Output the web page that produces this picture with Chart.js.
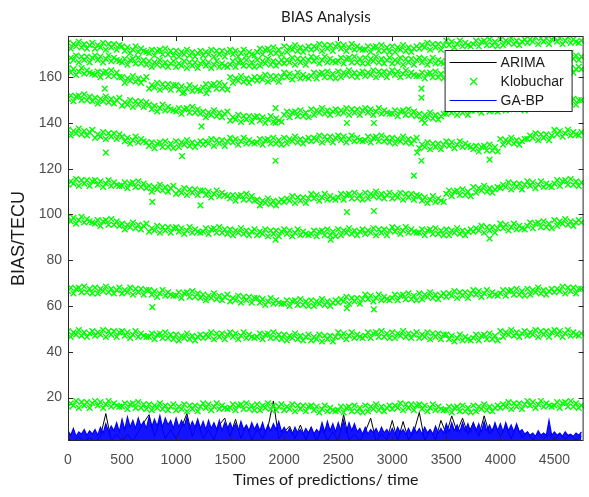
<!DOCTYPE html>
<html>
<head>
<meta charset="utf-8">
<title>BIAS Analysis</title>
<script src="https://cdn.jsdelivr.net/npm/chart.js@4.4.1/dist/chart.umd.min.js"></script>
<style>
  html, body { margin: 0; padding: 0; background: #fff; }
  #wrap { width: 589px; height: 497px; }
</style>
</head>
<body>
<div id="wrap"><canvas id="grafico" width="589" height="497"></canvas></div>
<script>
// Eixos (ticks)
const xTicks = [0, 500, 1000, 1500, 2000, 2500, 3000, 3500, 4000, 4500];
const yTicks = [20, 40, 60, 80, 100, 120, 140, 160];

// Tempos das amostras de ARIMA (passo 50)
const times = [
  0, 50, 100, 150, 200, 250, 300, 350, 400, 450,
  500, 550, 600, 650, 700, 750, 800, 850, 900, 950,
  1000, 1050, 1100, 1150, 1200, 1250, 1300, 1350, 1400, 1450,
  1500, 1550, 1600, 1650, 1700, 1750, 1800, 1850, 1900, 1950,
  2000, 2050, 2100, 2150, 2200, 2250, 2300, 2350, 2400, 2450,
  2500, 2550, 2600, 2650, 2700, 2750, 2800, 2850, 2900, 2950,
  3000, 3050, 3100, 3150, 3200, 3250, 3300, 3350, 3400, 3450,
  3500, 3550, 3600, 3650, 3700, 3750, 3800, 3850, 3900, 3950,
  4000, 4050, 4100, 4150, 4200, 4250, 4300, 4350, 4400, 4450,
  4500, 4550, 4600, 4650, 4700, 4750
];

// Tempos mais finos (passo 25) para Klobuchar e GA-BP
const timesFine = [
  0, 25, 50, 75, 100, 125, 150, 175, 200, 225,
  250, 275, 300, 325, 350, 375, 400, 425, 450, 475,
  500, 525, 550, 575, 600, 625, 650, 675, 700, 725,
  750, 775, 800, 825, 850, 875, 900, 925, 950, 975,
  1000, 1025, 1050, 1075, 1100, 1125, 1150, 1175, 1200, 1225,
  1250, 1275, 1300, 1325, 1350, 1375, 1400, 1425, 1450, 1475,
  1500, 1525, 1550, 1575, 1600, 1625, 1650, 1675, 1700, 1725,
  1750, 1775, 1800, 1825, 1850, 1875, 1900, 1925, 1950, 1975,
  2000, 2025, 2050, 2075, 2100, 2125, 2150, 2175, 2200, 2225,
  2250, 2275, 2300, 2325, 2350, 2375, 2400, 2425, 2450, 2475,
  2500, 2525, 2550, 2575, 2600, 2625, 2650, 2675, 2700, 2725,
  2750, 2775, 2800, 2825, 2850, 2875, 2900, 2925, 2950, 2975,
  3000, 3025, 3050, 3075, 3100, 3125, 3150, 3175, 3200, 3225,
  3250, 3275, 3300, 3325, 3350, 3375, 3400, 3425, 3450, 3475,
  3500, 3525, 3550, 3575, 3600, 3625, 3650, 3675, 3700, 3725,
  3750, 3775, 3800, 3825, 3850, 3875, 3900, 3925, 3950, 3975,
  4000, 4025, 4050, 4075, 4100, 4125, 4150, 4175, 4200, 4225,
  4250, 4275, 4300, 4325, 4350, 4375, 4400, 4425, 4450, 4475,
  4500, 4525, 4550, 4575, 4600, 4625, 4650, 4675, 4700, 4725,
  4750
];

// Klobuchar: faixas (de cima para baixo), passo 25
const kloBandA = [
  175, 172.5, 174.5, 173.5, 175.5, 173, 174.5, 172.5, 174, 175,
  172.5, 174, 173, 175, 172, 174.5, 173, 174.5, 172, 174,
  173.5, 171.5, 173, 170.5, 172, 173.5, 171, 172.5, 171.5, 171,
  170.5, 172, 169.5, 171.5, 172, 170, 172.5, 170, 171.5, 169.5,
  171.5, 169, 171, 170, 172, 169.5, 171, 169, 170.5, 171.5,
  169.5, 171, 170, 172, 169, 171.5, 170, 171.5, 169, 171,
  172, 170, 171.5, 169, 170.5, 172, 169.5, 171, 170, 169.5,
  171, 172.5, 170, 172, 172.5, 170.5, 173, 170.5, 172, 170,
  173.5, 171, 173, 172, 174, 171.5, 173, 171, 172.5, 173.5,
  172, 173.5, 172.5, 174.5, 171.5, 174, 172.5, 174, 171.5, 173.5,
  174.5, 172.5, 174, 171.5, 173, 174.5, 172, 173.5, 172.5, 172,
  172, 173.5, 171, 173, 173.5, 171.5, 174, 171.5, 173, 171,
  173.5, 171, 173, 172, 174, 171.5, 173, 171, 172.5, 173.5,
  172.5, 174, 173, 175, 172, 174.5, 173, 174.5, 172, 174,
  176, 174, 175.5, 173, 174.5, 176, 173.5, 175, 174, 173.5,
  174.5, 176, 173.5, 175.5, 176, 174, 176.5, 174, 175.5, 173.5,
  176.5, 174, 176, 175, 177, 174.5, 176, 174, 175.5, 176.5,
  175, 176.5, 175.5, 177.5, 174.5, 177, 175.5, 177, 174.5, 176.5,
  177.5, 175.5, 177, 174.5, 176, 177.5, 175, 176.5, 175.5, 175,
  176
];
const kloBandB = [
  167, 168.5, 167.5, 169.5, 166.5, 169, 167.5, 169, 166.5, 168.5,
  169.5, 167.5, 169, 166.5, 168, 169.5, 167, 168.5, 167.5, 167,
  166.5, 168, 165.5, 167.5, 168, 166, 168.5, 166, 167.5, 165.5,
  167, 164.5, 166.5, 165.5, 167.5, 165, 166.5, 164.5, 166, 167,
  164.5, 166, 165, 167, 164, 166.5, 165, 166.5, 164, 166,
  167, 165, 166.5, 164, 165.5, 167, 164.5, 166, 165, 164.5,
  165.5, 167, 164.5, 166.5, 167, 165, 167.5, 165, 166.5, 164.5,
  167.5, 165, 167, 166, 168, 165.5, 167, 165, 166.5, 167.5,
  166, 167.5, 166.5, 168.5, 165.5, 168, 166.5, 168, 165.5, 167.5,
  169, 167, 168.5, 166, 167.5, 169, 166.5, 168, 167, 166.5,
  167, 168.5, 166, 168, 168.5, 166.5, 169, 166.5, 168, 166,
  168.5, 166, 168, 167, 169, 166.5, 168, 166, 167.5, 168.5,
  166, 167.5, 166.5, 168.5, 165.5, 168, 166.5, 168, 165.5, 167.5,
  168.5, 166.5, 168, 165.5, 167, 168.5, 166, 167.5, 166.5, 166,
  167, 168.5, 166, 168, 168.5, 166.5, 169, 166.5, 168, 166,
  169, 166.5, 168.5, 167.5, 169.5, 167, 168.5, 166.5, 168, 169,
  167.5, 169, 168, 170, 167, 169.5, 168, 169.5, 167, 169,
  170.5, 168.5, 170, 167.5, 169, 170.5, 168, 169.5, 168.5, 168,
  168.5, 170, 167.5, 169.5, 170, 168, 170.5, 168, 169.5, 167.5,
  169
];
const kloBandC = [
  164, 162, 163.5, 161, 162.5, 164, 161.5, 163, 162, 161.5,
  161, 162.5, 160, 162, 162.5, 160.5, 163, 160.5, 162, 160,
  160, 157.5, 159.5, 158.5, 160.5, 158, 159.5, 157.5, 159, 160,
  155, 156.5, 155.5, 157.5, 154.5, 157, 155.5, 157, 154.5, 156.5,
  156.5, 154.5, 156, 153.5, 155, 156.5, 154, 155.5, 154.5, 154,
  155.5, 157, 154.5, 156.5, 157, 155, 157.5, 155, 156.5, 154.5,
  160, 157.5, 159.5, 158.5, 160.5, 158, 159.5, 157.5, 159, 160,
  158.5, 160, 159, 161, 158, 160.5, 159, 160.5, 158, 160,
  162, 160, 161.5, 159, 160.5, 162, 159.5, 161, 160, 159.5,
  160.5, 162, 159.5, 161.5, 162, 160, 162.5, 160, 161.5, 159.5,
  162.5, 160, 162, 161, 163, 160.5, 162, 160, 161.5, 162.5,
  160.5, 162, 161, 163, 160, 162.5, 161, 162.5, 160, 162,
  163, 161, 162.5, 160, 161.5, 163, 160.5, 162, 161, 160.5,
  160.5, 162, 159.5, 161.5, 162, 160, 162.5, 160, 161.5, 159.5,
  163, 160.5, 162.5, 161.5, 163.5, 161, 162.5, 160.5, 162, 163,
  161.5, 163, 162, 164, 161, 163.5, 162, 163.5, 161, 163,
  164.5, 162.5, 164, 161.5, 163, 164.5, 162, 163.5, 162.5, 162,
  162.5, 164, 161.5, 163.5, 164, 162, 164.5, 162, 163.5, 161.5,
  164.5, 162, 164, 163, 165, 162.5, 164, 162, 163.5, 164.5,
  163.5
];
const kloBandD = [
  150.5, 152, 149.5, 151.5, 152, 150, 152.5, 150, 151.5, 149.5,
  151, 148.5, 150.5, 149.5, 151.5, 149, 150.5, 148.5, 150, 151,
  147.5, 149, 148, 150, 147, 149.5, 148, 149.5, 147, 149,
  148, 146, 147.5, 145, 146.5, 148, 145.5, 147, 146, 145.5,
  145, 146.5, 144, 146, 146.5, 144.5, 147, 144.5, 146, 144,
  145, 142.5, 144.5, 143.5, 145.5, 143, 144.5, 142.5, 144, 145,
  141, 142.5, 141.5, 143.5, 140.5, 143, 141.5, 143, 140.5, 142.5,
  143, 141, 142.5, 140, 141.5, 143, 140.5, 142, 141, 140.5,
  143.5, 145, 142.5, 144.5, 145, 143, 145.5, 143, 144.5, 142.5,
  146, 143.5, 145.5, 144.5, 146.5, 144, 145.5, 143.5, 145, 146,
  144, 145.5, 144.5, 146.5, 143.5, 146, 144.5, 146, 143.5, 145.5,
  146.5, 144.5, 146, 143.5, 145, 146.5, 144, 145.5, 144.5, 144,
  144, 145.5, 143, 145, 145.5, 143.5, 146, 143.5, 145, 143,
  144, 141.5, 143.5, 142.5, 144.5, 142, 143.5, 141.5, 143, 144,
  144, 145.5, 144.5, 146.5, 143.5, 146, 144.5, 146, 143.5, 145.5,
  147.5, 145.5, 147, 144.5, 146, 147.5, 145, 146.5, 145.5, 145,
  146.5, 148, 145.5, 147.5, 148, 146, 148.5, 146, 147.5, 145.5,
  149, 146.5, 148.5, 147.5, 149.5, 147, 148.5, 146.5, 148, 149,
  148.5, 150, 149, 151, 148, 150.5, 149, 150.5, 148, 150,
  150
];
const kloBandE = [
  137, 134.5, 136.5, 135.5, 137.5, 135, 136.5, 134.5, 136, 137,
  133.5, 135, 134, 136, 133, 135.5, 134, 135.5, 133, 135,
  134, 132, 133.5, 131, 132.5, 134, 131.5, 133, 132, 131.5,
  130, 131.5, 129, 131, 131.5, 129.5, 132, 129.5, 131, 129,
  132, 129.5, 131.5, 130.5, 132.5, 130, 131.5, 129.5, 131, 132,
  130.5, 132, 131, 133, 130, 132.5, 131, 132.5, 130, 132,
  133.5, 131.5, 133, 130.5, 132, 133.5, 131, 132.5, 131.5, 131,
  131.5, 133, 130.5, 132.5, 133, 131, 133.5, 131, 132.5, 130.5,
  133.5, 131, 133, 132, 134, 131.5, 133, 131, 132.5, 133.5,
  132, 133.5, 132.5, 134.5, 131.5, 134, 132.5, 134, 131.5, 133.5,
  134.5, 132.5, 134, 131.5, 133, 134.5, 132, 133.5, 132.5, 132,
  132.5, 134, 131.5, 133.5, 134, 132, 134.5, 132, 133.5, 131.5,
  133.5, 131, 133, 132, 134, 131.5, 133, 131, 132.5, 133.5,
  129, 130.5, 129.5, 131.5, 128.5, 131, 129.5, 131, 128.5, 130.5,
  132, 130, 131.5, 129, 130.5, 132, 129.5, 131, 130, 129.5,
  128.5, 130, 127.5, 129.5, 130, 128, 130.5, 128, 129.5, 127.5,
  133, 130.5, 132.5, 131.5, 133.5, 131, 132.5, 130.5, 132, 133,
  133, 134.5, 133.5, 135.5, 132.5, 135, 133.5, 135, 132.5, 134.5,
  137, 135, 136.5, 134, 135.5, 137, 134.5, 136, 135, 134.5,
  136
];
const kloBandF = [
  113, 114.5, 113.5, 115.5, 112.5, 115, 113.5, 115, 112.5, 114.5,
  115, 113, 114.5, 112, 113.5, 115, 112.5, 114, 113, 112.5,
  112.5, 114, 111.5, 113.5, 114, 112, 114.5, 112, 113.5, 111.5,
  112.5, 110, 112, 111, 113, 110.5, 112, 110, 111.5, 112.5,
  109, 110.5, 109.5, 111.5, 108.5, 111, 109.5, 111, 108.5, 110.5,
  110.5, 108.5, 110, 107.5, 109, 110.5, 108, 109.5, 108.5, 108,
  107, 108.5, 106, 108, 108.5, 106.5, 109, 106.5, 108, 106,
  106.5, 104, 106, 105, 107, 104.5, 106, 104, 105.5, 106.5,
  105.5, 107, 106, 108, 105, 107.5, 106, 107.5, 105, 107,
  109, 107, 108.5, 106, 107.5, 109, 106.5, 108, 107, 106.5,
  107.5, 109, 106.5, 108.5, 109, 107, 109.5, 107, 108.5, 106.5,
  109.5, 107, 109, 108, 110, 107.5, 109, 107, 108.5, 109.5,
  107, 108.5, 107.5, 109.5, 106.5, 109, 107.5, 109, 106.5, 108.5,
  108, 106, 107.5, 105, 106.5, 108, 105.5, 107, 106, 105.5,
  109, 110.5, 108, 110, 110.5, 108.5, 111, 108.5, 110, 108,
  112, 109.5, 111.5, 110.5, 112.5, 110, 111.5, 109.5, 111, 112,
  111.5, 113, 112, 114, 111, 113.5, 112, 113.5, 111, 113,
  114.5, 112.5, 114, 111.5, 113, 114.5, 112, 113.5, 112.5, 112,
  113.5, 115, 112.5, 114.5, 115, 113, 115.5, 113, 114.5, 112.5,
  114
];
const kloBandG = [
  99, 97, 98.5, 96, 97.5, 99, 96.5, 98, 97, 96.5,
  96, 97.5, 95, 97, 97.5, 95.5, 98, 95.5, 97, 95,
  96, 93.5, 95.5, 94.5, 96.5, 94, 95.5, 93.5, 95, 96,
  92.5, 94, 93, 95, 92, 94.5, 93, 94.5, 92, 94,
  94.5, 92.5, 94, 91.5, 93, 94.5, 92, 93.5, 92.5, 92,
  92.5, 94, 91.5, 93.5, 94, 92, 94.5, 92, 93.5, 91.5,
  93.5, 91, 93, 92, 94, 91.5, 93, 91, 92.5, 93.5,
  91, 92.5, 91.5, 93.5, 90.5, 93, 91.5, 93, 90.5, 92.5,
  93.5, 91.5, 93, 90.5, 92, 93.5, 91, 92.5, 91.5, 91,
  91.5, 93, 90.5, 92.5, 93, 91, 93.5, 91, 92.5, 90.5,
  93.5, 91, 93, 92, 94, 91.5, 93, 91, 92.5, 93.5,
  91.5, 93, 92, 94, 91, 93.5, 92, 93.5, 91, 93,
  94.5, 92.5, 94, 91.5, 93, 94.5, 92, 93.5, 92.5, 92,
  92, 93.5, 91, 93, 93.5, 91.5, 94, 91.5, 93, 91,
  93.5, 91, 93, 92, 94, 91.5, 93, 91, 92.5, 93.5,
  92.5, 94, 93, 95, 92, 94.5, 93, 94.5, 92, 94,
  96, 94, 95.5, 93, 94.5, 96, 93.5, 95, 94, 93.5,
  95, 96.5, 94, 96, 96.5, 94.5, 97, 94.5, 96, 94,
  97.5, 95, 97, 96, 98, 95.5, 97, 95, 96.5, 97.5,
  96.5
];
const kloBandH = [
  66.5, 68, 65.5, 67.5, 68, 66, 68.5, 66, 67.5, 65.5,
  68, 65.5, 67.5, 66.5, 68.5, 66, 67.5, 65.5, 67, 68,
  65.5, 67, 66, 68, 65, 67.5, 66, 67.5, 65, 67,
  67, 65, 66.5, 64, 65.5, 67, 64.5, 66, 65, 64.5,
  64.5, 66, 63.5, 65.5, 66, 64, 66.5, 64, 65.5, 63.5,
  65, 62.5, 64.5, 63.5, 65.5, 63, 64.5, 62.5, 64, 65,
  62, 63.5, 62.5, 64.5, 61.5, 64, 62.5, 64, 61.5, 63.5,
  63.5, 61.5, 63, 60.5, 62, 63.5, 61, 62.5, 61.5, 61,
  61, 62.5, 60, 62, 62.5, 60.5, 63, 60.5, 62, 60,
  62.5, 60, 62, 61, 63, 60.5, 62, 60, 61.5, 62.5,
  61.5, 63, 62, 64, 61, 63.5, 62, 63.5, 61, 63,
  65, 63, 64.5, 62, 63.5, 65, 62.5, 64, 63, 62.5,
  63.5, 65, 62.5, 64.5, 65, 63, 65.5, 63, 64.5, 62.5,
  65.5, 63, 65, 64, 66, 63.5, 65, 63, 64.5, 65.5,
  64, 65.5, 64.5, 66.5, 63.5, 66, 64.5, 66, 63.5, 65.5,
  67, 65, 66.5, 64, 65.5, 67, 64.5, 66, 65, 64.5,
  65.5, 67, 64.5, 66.5, 67, 65, 67.5, 65, 66.5, 64.5,
  67.5, 65, 67, 66, 68, 65.5, 67, 65, 66.5, 67.5,
  66, 67.5, 66.5, 68.5, 65.5, 68, 66.5, 68, 65.5, 67.5,
  67.5
];
const kloBandI = [
  49, 46.5, 48.5, 47.5, 49.5, 47, 48.5, 46.5, 48, 49,
  47, 48.5, 47.5, 49.5, 46.5, 49, 47.5, 49, 46.5, 48.5,
  49, 47, 48.5, 46, 47.5, 49, 46.5, 48, 47, 46.5,
  46.5, 48, 45.5, 47.5, 48, 46, 48.5, 46, 47.5, 45.5,
  47.5, 45, 47, 46, 48, 45.5, 47, 45, 46.5, 47.5,
  46, 47.5, 46.5, 48.5, 45.5, 48, 46.5, 48, 45.5, 47.5,
  48.5, 46.5, 48, 45.5, 47, 48.5, 46, 47.5, 46.5, 46,
  46.5, 48, 45.5, 47.5, 48, 46, 48.5, 46, 47.5, 45.5,
  47.5, 45, 47, 46, 48, 45.5, 47, 45, 46.5, 47.5,
  45, 46.5, 45.5, 47.5, 44.5, 47, 45.5, 47, 44.5, 46.5,
  48.5, 46.5, 48, 45.5, 47, 48.5, 46, 47.5, 46.5, 46,
  47, 48.5, 46, 48, 48.5, 46.5, 49, 46.5, 48, 46,
  48.5, 46, 48, 47, 49, 46.5, 48, 46, 47.5, 48.5,
  46, 47.5, 46.5, 48.5, 45.5, 48, 46.5, 48, 45.5, 47.5,
  47.5, 45.5, 47, 44.5, 46, 47.5, 45, 46.5, 45.5, 45,
  46, 47.5, 45, 47, 47.5, 45.5, 48, 45.5, 47, 45,
  49, 46.5, 48.5, 47.5, 49.5, 47, 48.5, 46.5, 48, 49,
  47, 48.5, 47.5, 49.5, 46.5, 49, 47.5, 49, 46.5, 48.5,
  49.5, 47.5, 49, 46.5, 48, 49.5, 47, 48.5, 47.5, 47,
  48
];
const kloBandJ = [
  16, 17.5, 16.5, 18.5, 15.5, 18, 16.5, 18, 15.5, 17.5,
  18.5, 16.5, 18, 15.5, 17, 18.5, 16, 17.5, 16.5, 16,
  16, 17.5, 15, 17, 17.5, 15.5, 18, 15.5, 17, 15,
  17, 14.5, 16.5, 15.5, 17.5, 15, 16.5, 14.5, 16, 17,
  14.5, 16, 15, 17, 14, 16.5, 15, 16.5, 14, 16,
  17.5, 15.5, 17, 14.5, 16, 17.5, 15, 16.5, 15.5, 15,
  15.5, 17, 14.5, 16.5, 17, 15, 17.5, 15, 16.5, 14.5,
  17, 14.5, 16.5, 15.5, 17.5, 15, 16.5, 14.5, 16, 17,
  14.5, 16, 15, 17, 14, 16.5, 15, 16.5, 14, 16,
  16.5, 14.5, 16, 13.5, 15, 16.5, 14, 15.5, 14.5, 14,
  14.5, 16, 13.5, 15.5, 16, 14, 16.5, 14, 15.5, 13.5,
  16.5, 14, 16, 15, 17, 14.5, 16, 14, 15.5, 16.5,
  15, 16.5, 15.5, 17.5, 14.5, 17, 15.5, 17, 14.5, 16.5,
  17, 15, 16.5, 14, 15.5, 17, 14.5, 16, 15, 14.5,
  14.5, 16, 13.5, 15.5, 16, 14, 16.5, 14, 15.5, 13.5,
  16.5, 14, 16, 15, 17, 14.5, 16, 14, 15.5, 16.5,
  15.5, 17, 16, 18, 15, 17.5, 16, 17.5, 15, 17,
  18.5, 16.5, 18, 15.5, 17, 18.5, 16, 17.5, 16.5, 16,
  16.5, 18, 15.5, 17.5, 18, 16, 18.5, 16, 17.5, 15.5,
  16.5
];
// Pontos soltos (fora das faixas)
const kloOutX = [340, 350, 780, 780, 1055, 1060, 1225, 1235, 1280, 1920, 1920, 1920, 1920, 2430, 2580, 2580, 2580, 2830, 2830, 2830, 3270, 3270, 3270, 3900, 3900, 3300, 3230, 3200];
const kloOutY = [155, 127, 105.5, 59.5, 125.5, 153, 104, 138.5, 153, 123.5, 146.5, 89, 140, 89, 140, 101, 59, 140, 101.5, 58.5, 123.5, 151, 155, 124, 89.5, 140, 127, 117];

// GA-BP (linha azul, passo 25)
const gabpValues = [
  5.5, 3.5, 6.5, 3, 5, 4, 6, 3.5, 5.5, 4,
  6, 3.5, 7, 4.5, 8.5, 5, 7.5, 5.5, 9, 5,
  10.5, 6, 11.5, 7, 10, 6.5, 11, 7.5, 9.5, 6.5,
  11.5, 7, 10.5, 7.5, 12, 7, 11, 8, 10, 6.5,
  11, 7, 10, 7.5, 11.5, 6.5, 9.5, 7, 10.5, 6.5,
  9.5, 6, 10, 6.5, 9, 6, 10, 5.5, 9, 6.5,
  9, 6, 8.5, 5.5, 9.5, 6, 8, 5.5, 9, 6,
  8.5, 5.5, 9, 5, 8, 5.5, 8.5, 6, 9.5, 5,
  7, 4.5, 6.5, 4, 7, 4.5, 6, 4, 6.5, 4.5,
  7, 4, 6, 4.5, 9, 5, 9.5, 5.5, 8.5, 5,
  9, 5.5, 10, 5, 9, 5.5, 8.5, 5, 6.5, 4,
  7, 4, 6, 4.5, 6.5, 4, 7, 4.5, 6, 4,
  6.5, 4, 7, 4.5, 6, 4, 6.5, 4, 7, 4.5,
  6.5, 4, 7, 4.5, 6, 4, 7.5, 4.5, 6.5, 4.5,
  8.5, 5, 9, 5.5, 8, 5, 9, 5.5, 8.5, 5,
  9, 5.5, 8.5, 5, 9.5, 5.5, 8, 5, 9, 5.5,
  8.5, 5, 9, 5.5, 8, 5, 8.5, 5, 6, 4,
  5, 3.5, 4.5, 3, 5.5, 3.5, 4.5, 3.5, 10, 3.5,
  5, 3.5, 4.5, 3, 5, 3.5, 4, 3, 4.5, 3.5,
  5
];

// ARIMA (linha preta, passo 50)
const arimaValues = [
  2, 0.5, 3, 0.8, 2.5, 0.5, 3, 13, 1, 4,
  0.8, 4, 1, 5, 9, 12.5, 3, 10, 2, 6,
  2, 7, 13, 3, 9, 2, 6, 1.5, 8, 11,
  3, 10.5, 2, 8, 1.5, 6, 2, 7, 18.5, 2,
  5, 7.5, 2, 8, 1.5, 7, 1, 6.5, 1, 5,
  1, 12.5, 1.5, 4, 1, 5, 11, 1, 4, 1.5,
  10, 1, 9.5, 1.5, 5, 13.5, 1, 6, 1.5, 10,
  4, 12, 5, 11, 4, 9, 3, 12, 4, 8,
  3, 7.5, 2, 8, 2.5, 5, 1.5, 4.5, 2, 4,
  1.5, 4, 2, 3.5, 1.5, 3
];

// Monta os pontos de Klobuchar a partir das faixas
const kloBands = [kloBandA, kloBandB, kloBandC, kloBandD, kloBandE, kloBandF, kloBandG, kloBandH, kloBandI, kloBandJ];
const kloData = [];
kloBands.forEach(band => band.forEach((v, i) => kloData.push({ x: timesFine[i], y: v })));
kloOutX.forEach((x, i) => kloData.push({ x: x, y: kloOutY[i] }));

const gabpData = timesFine.map((t, i) => ({ x: t, y: gabpValues[i] }));
const arimaData = times.map((t, i) => ({ x: t, y: arimaValues[i] }));

const axisColor = '#262626';
const tickFont = { family: '"Liberation Sans", Arial, sans-serif', size: 14 };

// Caixa do eixo com ticks para dentro e legenda no estilo MATLAB
const boxPlugin = {
  id: 'boxPlugin',
  afterDatasetsDraw(chart) {
    const ctx = chart.ctx;
    const a = chart.chartArea;
    const xs = chart.scales.x, ys = chart.scales.y;
    const len = 5;
    ctx.save();
    ctx.strokeStyle = axisColor;
    ctx.lineWidth = 1;
    ctx.strokeRect(a.left + 0.5, a.top + 0.5, a.right - a.left - 1, a.bottom - a.top - 1);
    ctx.beginPath();
    xTicks.forEach(v => {
      const px = Math.round(xs.getPixelForValue(v)) + 0.5;
      ctx.moveTo(px, a.bottom); ctx.lineTo(px, a.bottom - len);
      ctx.moveTo(px, a.top); ctx.lineTo(px, a.top + len);
    });
    yTicks.forEach(v => {
      const py = Math.round(ys.getPixelForValue(v)) + 0.5;
      ctx.moveTo(a.left, py); ctx.lineTo(a.left + len, py);
      ctx.moveTo(a.right, py); ctx.lineTo(a.right - len, py);
    });
    ctx.stroke();

    // Legenda
    const bx = a.right - 139, by = a.top + 14, bw = 127, bh = 61;
    ctx.fillStyle = '#fff';
    ctx.fillRect(bx, by, bw, bh);
    ctx.strokeStyle = axisColor;
    ctx.strokeRect(bx + 0.5, by + 0.5, bw, bh);
    const rows = [
      { label: 'ARIMA', kind: 'line', color: '#000000' },
      { label: 'Klobuchar', kind: 'cross', color: 'rgb(0,255,0)' },
      { label: 'GA-BP', kind: 'line', color: 'rgb(0,0,255)' }
    ];
    ctx.font = '14px "Liberation Sans", Arial, sans-serif';
    ctx.textBaseline = 'middle';
    rows.forEach((r, i) => {
      const ry = by + 12.5 + i * 19;
      ctx.strokeStyle = r.color;
      ctx.lineWidth = r.kind === 'line' ? 1.2 : 1.3;
      ctx.beginPath();
      if (r.kind === 'line') {
        ctx.moveTo(bx + 5, ry); ctx.lineTo(bx + 52, ry);
      } else {
        const cx = bx + 29, s = 3.5;
        ctx.moveTo(cx - s, ry - s); ctx.lineTo(cx + s, ry + s);
        ctx.moveTo(cx - s, ry + s); ctx.lineTo(cx + s, ry - s);
      }
      ctx.stroke();
      ctx.fillStyle = '#1a1a1a';
      ctx.fillText(r.label, bx + 56, ry + 1);
    });
    ctx.restore();
  }
};

const ctx = document.getElementById('grafico');
const chart = new Chart(ctx, {
  type: 'scatter',
  data: {
    datasets: [
      {
        label: 'GA-BP',
        data: gabpData,
        showLine: true,
        borderColor: 'rgb(0,0,255)',
        backgroundColor: 'rgba(0,0,255,0.92)',
        fill: 'origin',
        borderWidth: 1.2,
        pointRadius: 0,
        tension: 0,
        clip: 0
      },
      {
        label: 'Klobuchar',
        data: kloData,
        showLine: false,
        pointStyle: 'crossRot',
        pointRadius: 4,
        borderColor: 'rgb(0,255,0)',
        backgroundColor: 'rgb(0,255,0)',
        borderWidth: 1.4,
        clip: 0
      },
      {
        label: 'ARIMA',
        data: arimaData,
        showLine: true,
        borderColor: '#000000',
        borderWidth: 1,
        pointRadius: 0,
        tension: 0,
        clip: 0
      }
    ]
  },
  options: {
    responsive: false,
    animation: false,
    devicePixelRatio: 1,
    layout: { padding: { left: 0, right: 2, top: 0, bottom: 0 } },
    plugins: {
      legend: { display: false },
      tooltip: { enabled: false },
      title: {
        display: true,
        fullSize: false,
        text: 'BIAS Analysis',
        color: '#1a1a1a',
        font: { family: 'Lato, "Open Sans", sans-serif', size: 15, weight: 'normal', lineHeight: 1.2 },
        padding: { top: 8, bottom: 10 }
      }
    },
    scales: {
      x: {
        type: 'linear',
        min: 0,
        max: 4770,
        afterBuildTicks: s => { s.ticks = xTicks.map(v => ({ value: v })); },
        afterFit: s => { s.height = 56; },
        grid: { display: false, drawTicks: false },
        border: { display: false },
        ticks: { padding: 11, color: '#4d4d4d', font: tickFont, maxRotation: 0, callback: v => String(v) },
        title: {
          display: true,
          text: 'Times of predictions/ time',
          color: '#1a1a1a',
          font: { family: 'Lato, "Open Sans", sans-serif', size: 16, lineHeight: 1.2 },
          padding: { top: 0, bottom: 8 }
        }
      },
      y: {
        type: 'linear',
        min: 1,
        max: 178,
        afterBuildTicks: s => { s.ticks = yTicks.map(v => ({ value: v })); },
        afterFit: s => { s.width = 68; },
        grid: { display: false, drawTicks: false },
        border: { display: false },
        ticks: { padding: 6, color: '#4d4d4d', font: tickFont, callback: v => String(v) },
        title: {
          display: true,
          text: 'BIAS/TECU',
          color: '#1a1a1a',
          font: { family: '"Liberation Sans", Arial, sans-serif', size: 18, lineHeight: 1.2 },
          padding: { top: 8, bottom: 0 }
        }
      }
    }
  },
  plugins: [boxPlugin]
});
</script>
</body>
</html>
